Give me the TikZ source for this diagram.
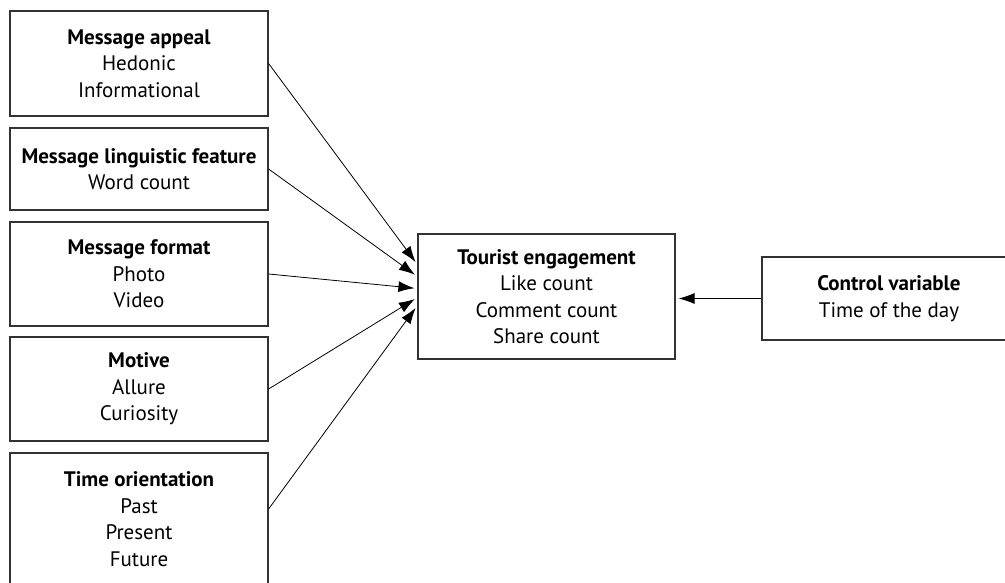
\documentclass[tikz,border=0pt]{standalone}
\usepackage{fontspec}
\setmainfont{PT Sans}
\usetikzlibrary{arrows.meta}
\tikzset{
  caixa/.style={draw=black!80, line width=1.2pt, align=center, inner sep=0pt,
    font=\fontsize{21}{26.5}\selectfont},
  seta/.style={->, line width=0.8pt, shorten >=3pt},
}
\begin{document}
\begin{tikzpicture}[>={Latex[length=16pt,width=11pt]}, x=1pt, y=-1pt]
      \useasboundingbox (0,0) rectangle (1005,583);

      % Variáveis independentes (coluna da esquerda)
      \node[caixa, minimum width=258pt, minimum height=105pt] (apelo) at (139,63.5)
            {\textbf{Message appeal}\\Hedonic\\Informational};
      \node[caixa, minimum width=258pt, minimum height=82pt] (ling) at (139,169)
            {\textbf{Message linguistic feature}\\Word count};
      \node[caixa, minimum width=258pt, minimum height=104pt] (formato) at (139,274)
            {\textbf{Message format}\\Photo\\Video};
      \node[caixa, minimum width=258pt, minimum height=104pt] (motivo) at (139,389)
            {\textbf{Motive}\\Allure\\Curiosity};
      \node[caixa, minimum width=258pt, minimum height=132pt] (tempo) at (139,519)
            {\textbf{Time orientation}\\Past\\Present\\Future};

      % Variável dependente
      \node[caixa, minimum width=257pt, minimum height=125pt] (engaj) at (546.5,296.5)
            {\textbf{Tourist engagement}\\Like count\\Comment count\\Share count};

      % Variável de controle
      \node[caixa, minimum width=254pt, minimum height=83pt] (controle) at (889,298.5)
            {\textbf{Control variable}\\Time of the day};

      % Setas para o engajamento
      \draw[seta] (apelo.east) -- ([yshift=32pt]engaj.west);
      \draw[seta] (ling.east) -- ([yshift=20pt]engaj.west);
      \draw[seta] (formato.east) -- ([yshift=8pt]engaj.west);
      \draw[seta] (motivo.east) -- ([yshift=-1pt]engaj.west);
      \draw[seta] ([yshift=10pt]tempo.east) -- ([yshift=-9pt]engaj.west);

      % Controle -> engajamento
      \draw[seta] (controle.west) -- (controle.west -| engaj.east);
\end{tikzpicture}
\end{document}
